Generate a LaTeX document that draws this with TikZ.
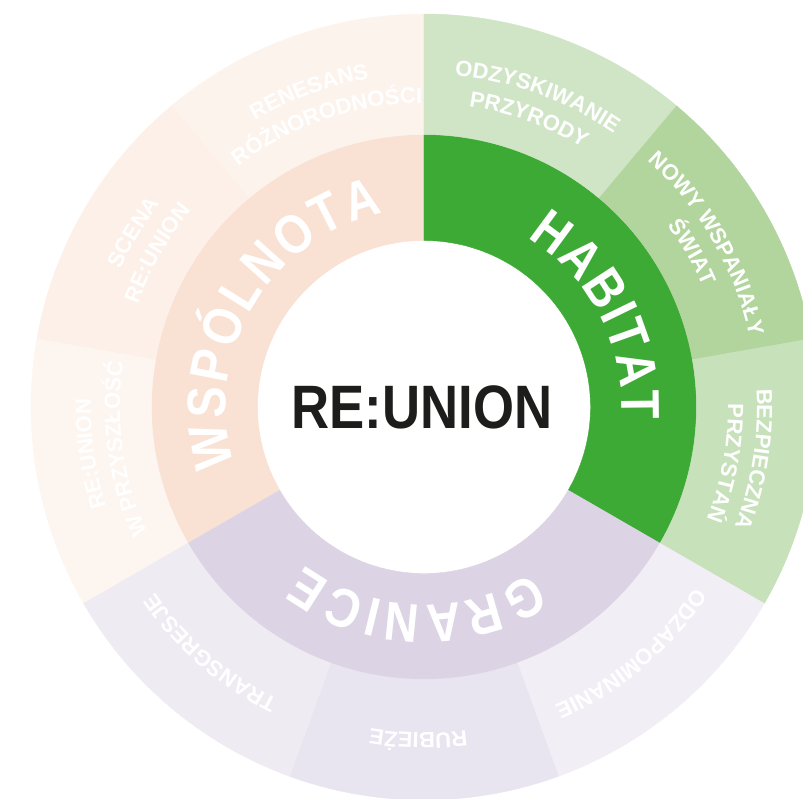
\documentclass[tikz,border=0pt]{standalone}
\usepackage{fontspec}
\setmainfont{Liberation Sans}
\newfontfamily\narrowsans[FakeStretch=0.86]{Liberation Sans}
\usepackage{tikz}
\usetikzlibrary{decorations.text}

\definecolor{commcore}{HTML}{F9E1D3}
\definecolor{commA}{HTML}{FDF3ED}
\definecolor{commB}{HTML}{FCF0E8}
\definecolor{commC}{HTML}{FDF5F0}
\definecolor{habcore}{HTML}{3DAA35}
\definecolor{habA}{HTML}{CFE5C6}
\definecolor{habB}{HTML}{B2D59E}
\definecolor{habC}{HTML}{C7E1BA}
\definecolor{bordcore}{HTML}{DCD4E5}
\definecolor{bordA}{HTML}{F1EEF5}
\definecolor{bordB}{HTML}{E8E4F0}
\definecolor{bordC}{HTML}{EEEBF3}
\definecolor{hubtext}{HTML}{1D1D1B}

\newcommand\hubfont{\narrowsans\bfseries\fontsize{46}{46}\selectfont}
\newcommand\catfont{\narrowsans\bfseries\fontsize{41}{41}\selectfont}
\newcommand\subfont{\bfseries\fontsize{16.5}{16.5}\selectfont}

\tikzset{
  seg/.style={fill=#1, draw=#1, line width=0.3pt},
  catlabel/.style={decorate, decoration={text along path, text align=fit to path,
      text color=white, text={|\catfont|#1}}},
  sublabel/.style={decorate, decoration={text along path, text align=center,
      text color=white, text={|\subfont|#1}}}
}

\begin{document}
\begin{tikzpicture}[scale=0.02636]
    \useasboundingbox (-424,-392) rectangle (379,407);
    \clip (-424,-392) rectangle (379,407);
    \begin{scope}
      \fill[seg=commcore] (90:166.5) arc[start angle=90, end angle=210, radius=166.5] -- (210:272.5) arc[start angle=210, end angle=90, radius=272.5] -- cycle;
      \fill[seg=habcore] (-30:166.5) arc[start angle=-30, end angle=90, radius=166.5] -- (90:272.5) arc[start angle=90, end angle=-30, radius=272.5] -- cycle;
      \fill[seg=bordcore] (210:166.5) arc[start angle=210, end angle=330, radius=166.5] -- (330:272.5) arc[start angle=330, end angle=210, radius=272.5] -- cycle;
    \end{scope}
    \begin{scope}
      \fill[seg=commA] (90:272.5) arc[start angle=90, end angle=130, radius=272.5] -- (130:393) arc[start angle=130, end angle=90, radius=393] -- cycle;
      \fill[seg=commB] (130:272.5) arc[start angle=130, end angle=170, radius=272.5] -- (170:393) arc[start angle=170, end angle=130, radius=393] -- cycle;
      \fill[seg=commC] (170:272.5) arc[start angle=170, end angle=210, radius=272.5] -- (210:393) arc[start angle=210, end angle=170, radius=393] -- cycle;
      \fill[seg=habA] (50:272.5) arc[start angle=50, end angle=90, radius=272.5] -- (90:393) arc[start angle=90, end angle=50, radius=393] -- cycle;
      \fill[seg=habB] (10:272.5) arc[start angle=10, end angle=50, radius=272.5] -- (50:393) arc[start angle=50, end angle=10, radius=393] -- cycle;
      \fill[seg=habC] (-30:272.5) arc[start angle=-30, end angle=10, radius=272.5] -- (10:393) arc[start angle=10, end angle=-30, radius=393] -- cycle;
      \fill[seg=bordA] (-70:272.5) arc[start angle=-70, end angle=-30, radius=272.5] -- (-30:393) arc[start angle=-30, end angle=-70, radius=393] -- cycle;
      \fill[seg=bordB] (-110:272.5) arc[start angle=-110, end angle=-70, radius=272.5] -- (-70:393) arc[start angle=-70, end angle=-110, radius=393] -- cycle;
      \fill[seg=bordC] (-150:272.5) arc[start angle=-150, end angle=-110, radius=272.5] -- (-110:393) arc[start angle=-110, end angle=-150, radius=393] -- cycle;
    \end{scope}
    \node[text=hubtext, font=\hubfont, inner sep=0pt] (hub) at (-2,0) {RE:UNION};
    \path[catlabel=WSPÓLNOTA] (197:198) arc[start angle=197, end angle=102, radius=198];
    \path[catlabel=HABITAT] (58.5:198) arc[start angle=58.5, end angle=-3.5, radius=198];
    \path[catlabel=GRANICE] (-57:198) arc[start angle=-57, end angle=-127, radius=198];
    \path[sublabel=ODZYSKIWANIE] (100:333) arc[start angle=100, end angle=40, radius=333];
    \path[sublabel=PRZYRODY] (100:304) arc[start angle=100, end angle=40, radius=304];
    \path[sublabel=NOWY WSPANIAŁY] (60:333) arc[start angle=60, end angle=0, radius=333];
    \path[sublabel=ŚWIAT] (60:304) arc[start angle=60, end angle=0, radius=304];
    \path[sublabel=BEZPIECZNA] (21:333) arc[start angle=21, end angle=-39, radius=333];
    \path[sublabel=PRZYSTAŃ] (19.5:304) arc[start angle=19.5, end angle=-40.5, radius=304];
    \path[sublabel=ODZAPOMINANIE] (-20:326) arc[start angle=-20, end angle=-80, radius=326];
    \path[sublabel=RUBIEŻE] (-61:326) arc[start angle=-61, end angle=-121, radius=326];
    \path[sublabel=TRANSGRESJE] (-101:327) arc[start angle=-101, end angle=-161, radius=327];
    \path[sublabel=RENESANS] (140:333) arc[start angle=140, end angle=80, radius=333];
    \path[sublabel=RÓŻNORODNOŚCI] (139:304) arc[start angle=139, end angle=79, radius=304];
    \path[sublabel=SCENA] (179:333) arc[start angle=179, end angle=119, radius=333];
    \path[sublabel=RE:UNION] (180:304) arc[start angle=180, end angle=120, radius=304];
    \path[sublabel=RE:UNION] (218:333) arc[start angle=218, end angle=158, radius=333];
    \path[sublabel=W PRZYSZŁOŚĆ] (218:304) arc[start angle=218, end angle=158, radius=304];
\end{tikzpicture}
\end{document}
